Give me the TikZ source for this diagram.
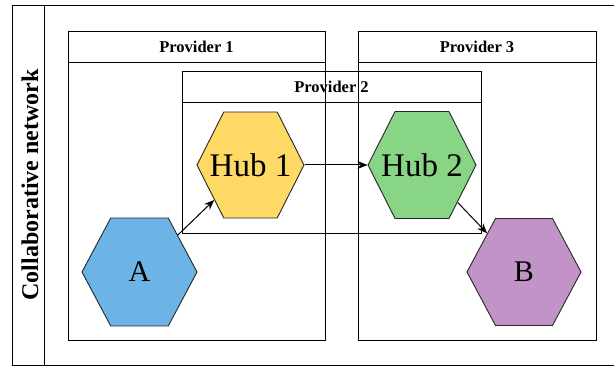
\documentclass[tikz,border=0pt]{standalone}
\usepackage{fontspec}
\setmainfont{Liberation Serif}
\usetikzlibrary{shapes.geometric,arrows.meta}
\definecolor{ablue}{HTML}{6CB4E6}
\definecolor{hubyellow}{HTML}{FFD966}
\definecolor{hubgreen}{HTML}{88D585}
\definecolor{bpurple}{HTML}{C193C6}
\begin{document}
\begin{tikzpicture}[x=1pt,y=-1pt]
    \tikzstyle{pool} = [rectangle, draw, line width=0.8pt, inner sep=0pt]
    \tikzstyle{header} = [rectangle, draw, line width=0.8pt, minimum height=31pt, inner sep=0pt, font=\fontsize{16.5}{19}\selectfont\bfseries]
    \tikzstyle{hexa} = [regular polygon, regular polygon sides=6, draw=black!85, line width=0.9pt, inner sep=0pt]
    \tikzstyle{arrow} = [line width=1pt,->,>={Stealth[length=10pt,width=8pt]}]
    \useasboundingbox (0,0) rectangle (614,366);
    \draw [line width=0.8pt] (620,5) -- (12,5) -- (12,365) -- (620,365);
    \draw [line width=0.8pt] (44,5) -- (44,365);
    \node (title) [rotate=90, font=\fontsize{24}{28}\selectfont\bfseries] at (30,185) {Collaborative network};

    \node (prov1) [pool, minimum width=257pt, minimum height=309pt] at (196.5,185.5) {};
    \node (prov1head) [header, minimum width=257pt, anchor=north] at (prov1.north) {Provider 1};
    \node (prov3) [pool, minimum width=238pt, minimum height=309pt] at (477,185.5) {};
    \node (prov3head) [header, minimum width=238pt, anchor=north] at (prov3.north) {Provider 3};
    \node (prov2) [pool, minimum width=299pt, minimum height=162pt] at (331.5,152) {};
    \node (prov2head) [header, minimum width=299pt, anchor=north] at (prov2.north) {Provider 2};

    \node (a) [hexa, fill=ablue, minimum size=115pt, yscale=1.084, label={[font=\fontsize{30}{32}\selectfont]center:A}] at (139.5,272) {};
    \node (hub1) [hexa, fill=hubyellow, minimum size=107pt, yscale=1.143, label={[font=\fontsize{33}{36}\selectfont]center:Hub 1}] at (250.5,165) {};
    \node (hub2) [hexa, fill=hubgreen, minimum size=108pt, yscale=1.143, label={[font=\fontsize{33}{36}\selectfont]center:Hub 2}] at (422,165) {};
    \node (b) [hexa, fill=bpurple, minimum size=114pt, yscale=1.084, label={[font=\fontsize{30}{32}\selectfont]center:B}] at (524,272) {};

    \draw [arrow] (a) -- (hub1);
    \draw [arrow] (hub1) -- (hub2);
    \draw [arrow] (hub2) -- (b);

\end{tikzpicture}
\end{document}
